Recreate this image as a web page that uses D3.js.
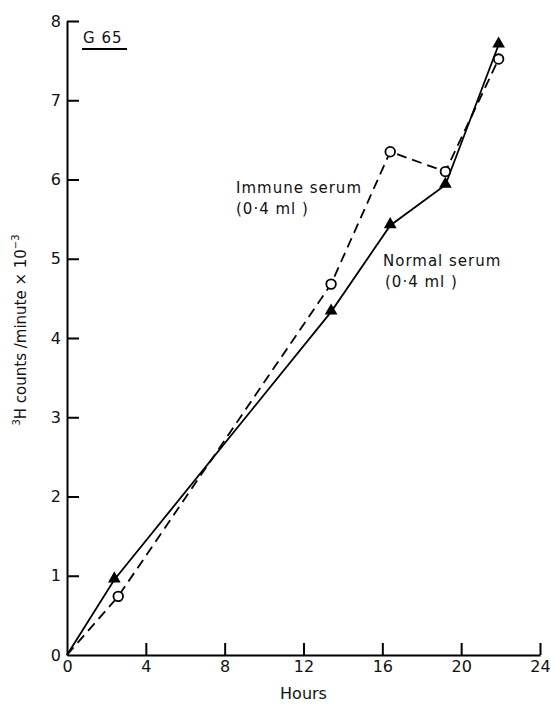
<!DOCTYPE html>
<html>
<head>
<meta charset="utf-8">
<title>G 65</title>
<style>
  body { margin: 0; background: #fff; }
  text { font-family: "DejaVu Sans", sans-serif; fill: #111; }
  .tick-label { font-size: 16px; }
  .note { font-size: 15px; letter-spacing: 1px; }
</style>
</head>
<body>
<svg width="551" height="704"></svg>
<script src="https://d3js.org/d3.v7.min.js"></script>
<script>
  // data (hours vs 3H counts/min x 10^-3)
  var hoursImmune = [0, 2.6, 13.4, 16.4, 19.2, 21.9];
  var countsImmune = [0, 0.74, 4.68, 6.35, 6.1, 7.52];
  var hoursNormal = [0, 2.4, 13.4, 16.4, 19.2, 21.9];
  var countsNormal = [0, 0.95, 4.33, 5.42, 5.93, 7.7];
  var xTicks = [0, 4, 8, 12, 16, 20, 24];
  var yTicks = [0, 1, 2, 3, 4, 5, 6, 7, 8];

  var svg = d3.select("svg");
  var ink = "#000";

  var x = d3.scaleLinear().domain([0, 24]).range([67, 540]);
  var y = d3.scaleLinear().domain([0, 8]).range([655, 21]);

  // axes, ticks pointing inward
  var xAxis = d3.axisBottom(x).tickValues(xTicks).tickSize(-12).tickSizeOuter(0).tickPadding(6);
  var yAxis = d3.axisLeft(y).tickValues(yTicks).tickSize(-12).tickSizeOuter(0).tickPadding(6);

  var gx = svg.append("g").attr("transform", "translate(0," + y(0) + ")").call(xAxis);
  var gy = svg.append("g").attr("transform", "translate(" + x(0) + ",0)").call(yAxis);

  [gx, gy].forEach(function(g) {
    g.attr("font-family", null).attr("font-size", null).attr("color", ink);
    g.select(".domain").attr("stroke", ink).attr("stroke-width", 2);
    g.selectAll(".tick line").attr("stroke", ink).attr("stroke-width", 2);
    g.selectAll(".tick text").attr("class", "tick-label");
  });
  gx.selectAll(".tick").filter(function(d) { return d === 0; }).select("line").remove();
  gy.selectAll(".tick").filter(function(d) { return d === 0; }).select("line").remove();

  svg.append("text").attr("class", "tick-label")
    .attr("x", (x(0) + x(24)) / 2).attr("y", 699)
    .attr("text-anchor", "middle").text("Hours");

  var ylab = svg.append("text")
    .attr("font-size", "15px")
    .attr("transform", "translate(26," + 330 + ") rotate(-90)")
    .attr("text-anchor", "middle");
  ylab.append("tspan").attr("font-size", "10px").attr("dy", "-6").text("3");
  ylab.append("tspan").attr("dy", "6").text("H  counts /minute × 10");
  ylab.append("tspan").attr("font-size", "10px").attr("dy", "-7").text("−3");

  // panel label
  svg.append("text").attr("class", "note")
    .attr("x", 83).attr("y", 43).text("G 65");
  svg.append("line").attr("stroke", ink).attr("stroke-width", 1.8)
    .attr("x1", 82).attr("x2", 127).attr("y1", 49).attr("y2", 49);

  var line = d3.line()
    .x(function(d) { return x(d[0]); })
    .y(function(d) { return y(d[1]); });

  var immune = d3.zip(hoursImmune, countsImmune);
  var normal = d3.zip(hoursNormal, countsNormal);

  svg.append("path").datum(normal).attr("d", line)
    .attr("fill", "none").attr("stroke", ink).attr("stroke-width", 1.8);
  svg.append("path").datum(immune).attr("d", line)
    .attr("fill", "none").attr("stroke", ink).attr("stroke-width", 1.8)
    .attr("stroke-dasharray", "10,6");

  var tri = d3.symbol().type(d3.symbolTriangle).size(70);
  svg.selectAll(".tri").data(normal.slice(1)).enter().append("path")
    .attr("class", "tri")
    .attr("d", tri)
    .attr("transform", function(d) { return "translate(" + x(d[0]) + "," + (y(d[1]) - 1) + ")"; })
    .attr("fill", ink);

  svg.selectAll(".circ").data(immune.slice(1)).enter().append("circle")
    .attr("class", "circ")
    .attr("cx", function(d) { return x(d[0]); })
    .attr("cy", function(d) { return y(d[1]); })
    .attr("r", 4.8)
    .attr("fill", "#fff").attr("stroke", ink).attr("stroke-width", 1.8);

  // series notes
  svg.append("text").attr("class", "note").attr("x", 236).attr("y", 193).text("Immune serum");
  svg.append("text").attr("class", "note").attr("x", 236).attr("y", 214).text("(0·4 ml )");
  svg.append("text").attr("class", "note").attr("x", 383).attr("y", 266).text("Normal serum");
  svg.append("text").attr("class", "note").attr("x", 385).attr("y", 287).text("(0·4 ml )");
</script>
</body>
</html>
